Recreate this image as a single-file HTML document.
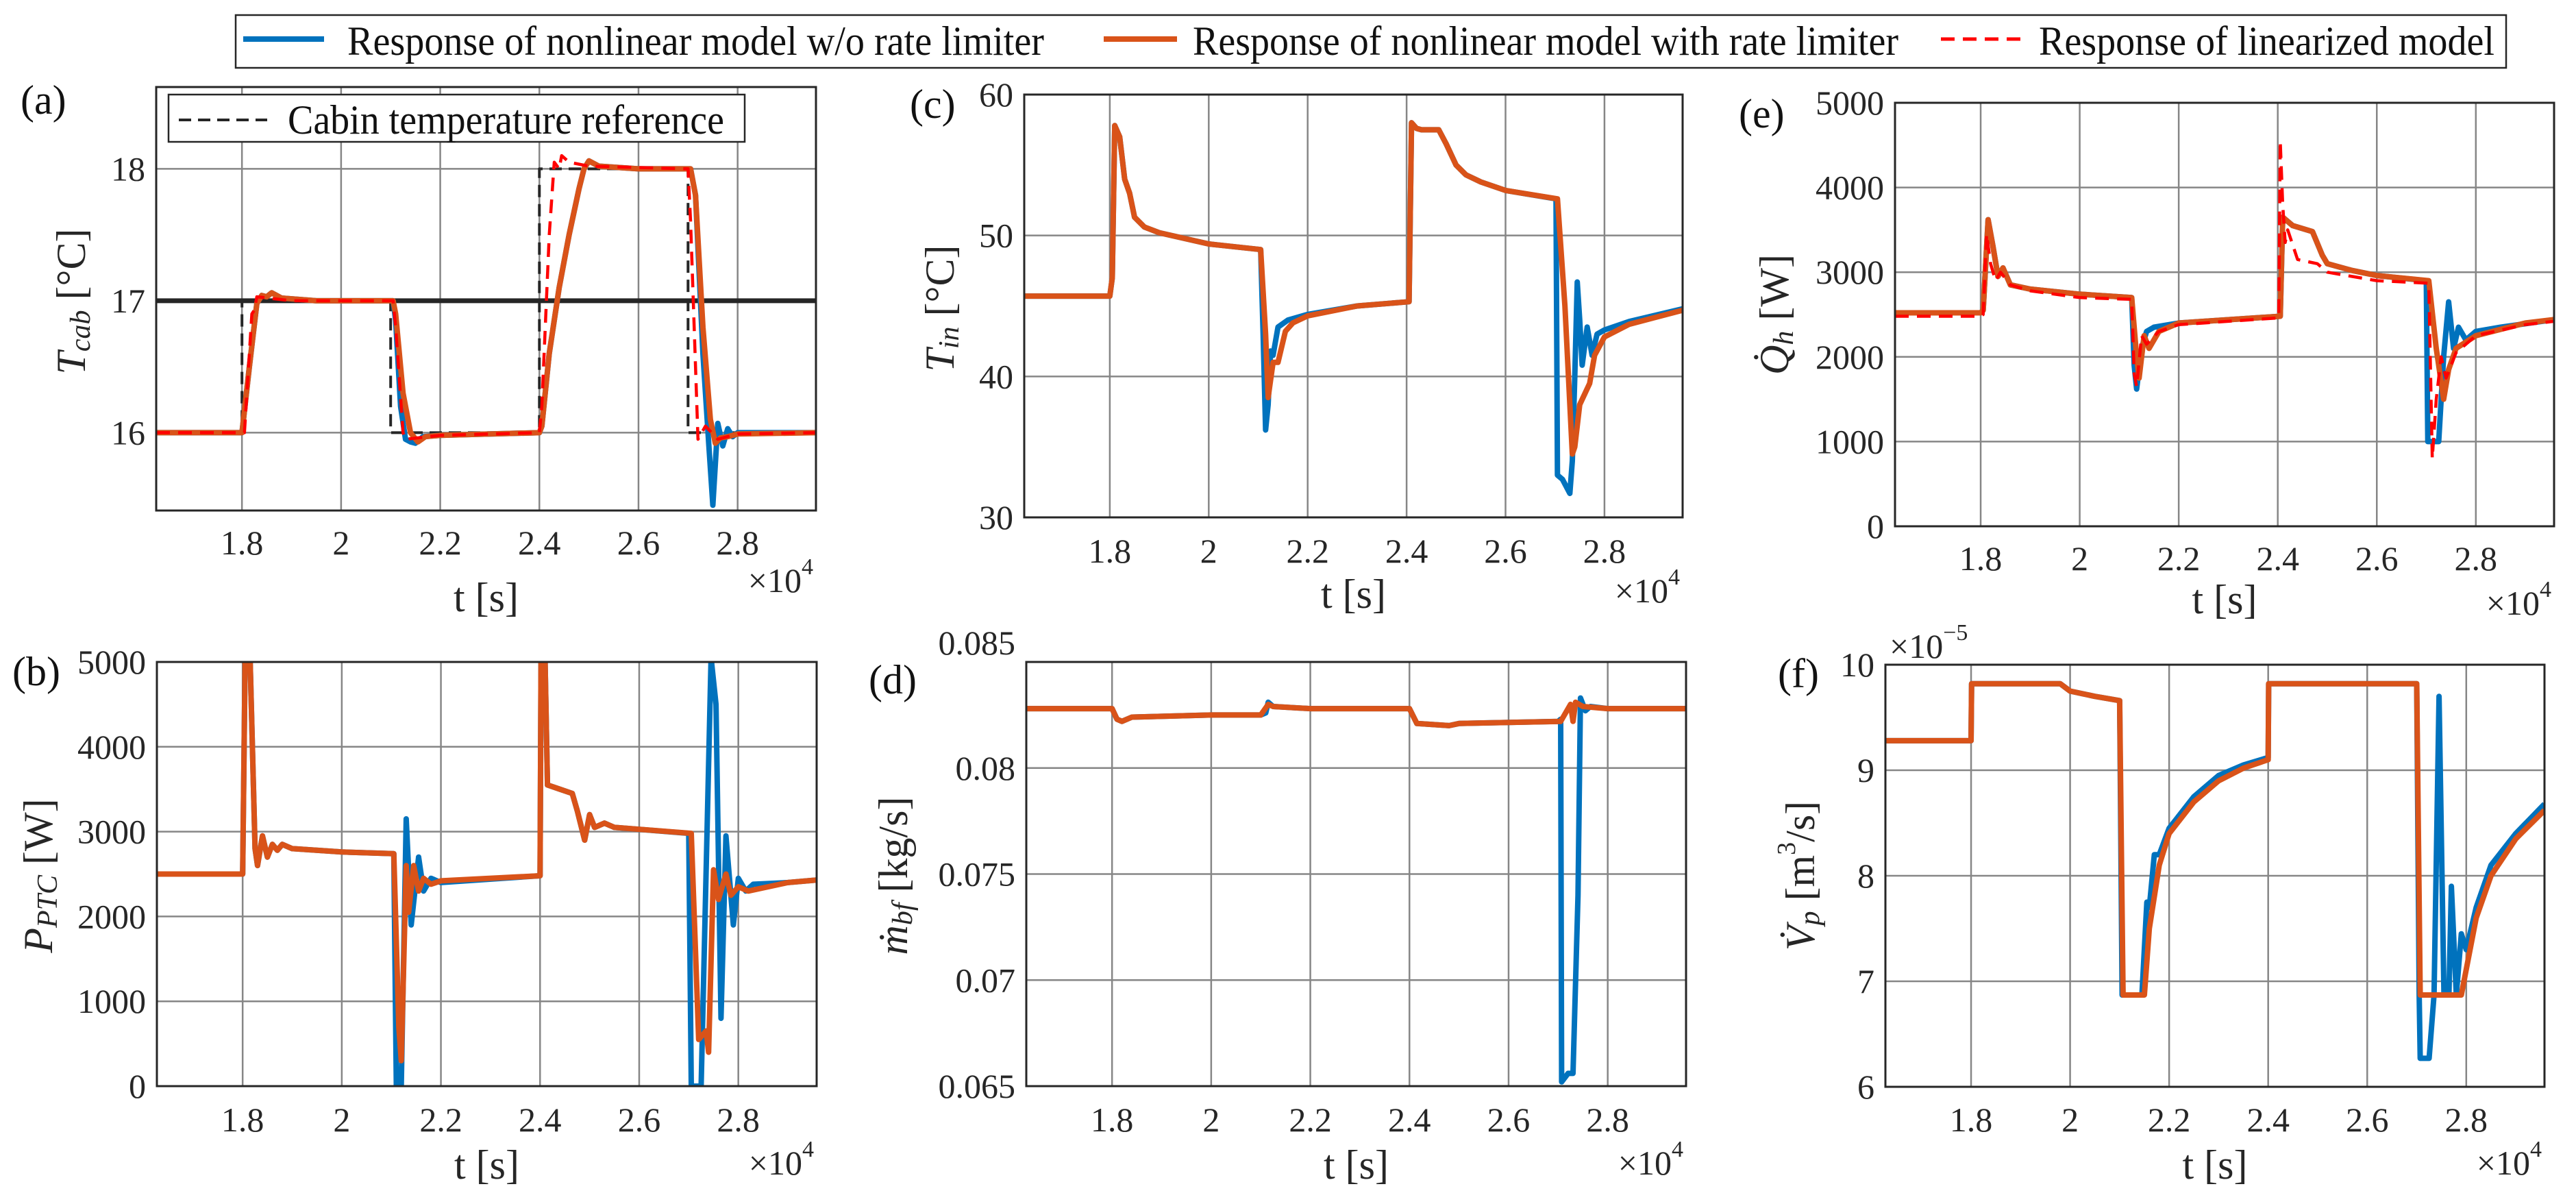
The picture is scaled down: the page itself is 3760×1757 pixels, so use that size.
<!DOCTYPE html>
<html><head><meta charset="utf-8"><style>
html,body{margin:0;padding:0;background:#fff;}
svg{display:block;font-family:"Liberation Serif",serif;}
</style></head><body>
<svg id="fig" width="3760" height="1757" viewBox="0 0 3760 1757" xmlns="http://www.w3.org/2000/svg"></svg>
<script>
// ---- shared axis data ----
const X_LIM = [1.627, 2.958];
const X_TICKS = [1.8, 2.0, 2.2, 2.4, 2.6, 2.8];
const X_TICK_LABELS = ["1.8", "2", "2.2", "2.4", "2.6", "2.8"];

// ---- (a) cabin temperature ----
const A_TICKS = [16, 17, 18];
const A_TICK_LABELS = ["16", "17", "18"];
const A_REF_T = [1.627, 1.8, 1.8, 2.1, 2.1, 2.4, 2.4, 2.7, 2.7, 2.958];
const A_REF_Y = [16, 16, 17, 17, 16, 16, 18, 18, 16, 16];
const A_BLUE_T = [1.627, 1.8, 1.815, 1.83, 1.84, 1.85, 1.86, 1.88, 1.95, 2.105, 2.11, 2.12, 2.13, 2.14, 2.15, 2.165, 2.2, 2.4, 2.405, 2.42, 2.44, 2.46, 2.48, 2.49, 2.5, 2.52, 2.6, 2.705, 2.715, 2.73, 2.742, 2.75, 2.76, 2.77, 2.78, 2.79, 2.8, 2.958];
const A_BLUE_Y = [16, 16, 16.5, 16.98, 17.04, 17.03, 17.06, 17.02, 17.0, 17.0, 16.85, 16.2, 15.95, 15.93, 15.92, 15.97, 15.98, 16.0, 16.05, 16.6, 17.1, 17.5, 17.85, 18.0, 18.06, 18.02, 18.0, 18.0, 17.8, 16.6, 15.9, 15.45, 16.07, 15.9, 16.03, 15.97, 16.0, 16.0];
const A_ORANGE_T = [1.627, 1.8, 1.815, 1.83, 1.84, 1.85, 1.86, 1.88, 1.95, 2.105, 2.11, 2.125, 2.14, 2.155, 2.17, 2.2, 2.4, 2.405, 2.42, 2.44, 2.46, 2.48, 2.49, 2.5, 2.52, 2.6, 2.705, 2.715, 2.73, 2.745, 2.755, 2.765, 2.78, 2.8, 2.958];
const A_ORANGE_Y = [16, 16, 16.5, 16.98, 17.04, 17.03, 17.06, 17.02, 17.0, 17.0, 16.9, 16.3, 16.0, 15.93, 15.97, 15.98, 16.0, 16.05, 16.6, 17.1, 17.5, 17.85, 18.0, 18.06, 18.02, 18.0, 18.0, 17.8, 16.8, 16.1, 15.92, 15.96, 15.97, 15.99, 16.0];
const A_RED_T = [1.627, 1.805, 1.82, 1.825, 1.83, 1.9, 2.105, 2.11, 2.125, 2.13, 2.2, 2.4, 2.405, 2.42, 2.43, 2.44, 2.445, 2.46, 2.5, 2.7, 2.705, 2.715, 2.72, 2.735, 2.76, 2.8, 2.958];
const A_RED_Y = [16, 16, 16.9, 16.93, 17.03, 17.0, 17.0, 16.8, 16.0, 15.95, 15.98, 16.0, 16.2, 17.5, 18.05, 18.0, 18.1, 18.05, 18.02, 18.0, 17.6, 16.5, 15.95, 16.05, 15.95, 15.99, 16.0];
const A_SETPOINT = [17];

// ---- (b) PTC power ----
const B_TICKS = [0, 1000, 2000, 3000, 4000, 5000];
const B_TICK_LABELS = ["0", "1000", "2000", "3000", "4000", "5000"];
const B_ORANGE_T = [1.627, 1.8, 1.805, 1.815, 1.825, 1.83, 1.84, 1.85, 1.86, 1.87, 1.88, 1.9, 2.0, 2.105, 2.115, 2.12, 2.13, 2.135, 2.145, 2.155, 2.165, 2.18, 2.2, 2.4, 2.402, 2.41, 2.415, 2.44, 2.465, 2.475, 2.49, 2.5, 2.51, 2.53, 2.55, 2.705, 2.72, 2.735, 2.74, 2.75, 2.76, 2.775, 2.785, 2.8, 2.82, 2.9, 2.958];
const B_ORANGE_Y = [2500, 2500, 5050, 5050, 2800, 2600, 2950, 2700, 2850, 2780, 2850, 2800, 2760, 2740, 700, 300, 2600, 2050, 2600, 2300, 2450, 2380, 2420, 2480, 5050, 5050, 3550, 3500, 3450, 3250, 2900, 3200, 3050, 3100, 3050, 2980, 550, 650, 400, 2550, 2200, 2500, 2250, 2350, 2300, 2400, 2430];
const B_BLUE_T = [1.627, 1.8, 1.805, 1.815, 1.825, 1.83, 1.84, 1.85, 1.86, 1.87, 1.88, 1.9, 2.0, 2.105, 2.11, 2.12, 2.13, 2.14, 2.155, 2.165, 2.18, 2.2, 2.4, 2.402, 2.41, 2.415, 2.44, 2.465, 2.475, 2.49, 2.5, 2.51, 2.53, 2.55, 2.7, 2.705, 2.725, 2.745, 2.755, 2.765, 2.775, 2.79, 2.8, 2.815, 2.83, 2.9, 2.958];
const B_BLUE_Y = [2500, 2500, 5050, 5050, 2800, 2600, 2950, 2700, 2850, 2780, 2850, 2800, 2760, 2740, 0, 0, 3150, 1900, 2700, 2300, 2450, 2400, 2480, 5050, 5050, 3550, 3500, 3450, 3250, 2900, 3200, 3050, 3100, 3050, 2980, 0, 0, 5050, 4500, 800, 2950, 1900, 2450, 2300, 2380, 2400, 2430];

// ---- (c) inlet temperature ----
const C_TICKS = [30, 40, 50, 60];
const C_TICK_LABELS = ["30", "40", "50", "60"];
const C_BLUE_T = [1.627, 1.8, 1.805, 1.81, 1.82, 1.83, 1.84, 1.85, 1.87, 1.9, 2.0, 2.105, 2.11, 2.115, 2.12, 2.125, 2.13, 2.14, 2.16, 2.2, 2.3, 2.405, 2.41, 2.42, 2.43, 2.465, 2.48, 2.5, 2.52, 2.55, 2.6, 2.702, 2.705, 2.715, 2.73, 2.735, 2.74, 2.745, 2.75, 2.755, 2.765, 2.775, 2.785, 2.8, 2.85, 2.958];
const C_BLUE_Y = [45.7, 45.7, 47, 57.8, 57, 54, 53, 51.3, 50.6, 50.2, 49.4, 49.0, 43, 36.2, 38, 41.8, 41.5, 43.5, 44, 44.4, 45.0, 45.3, 58, 57.6, 57.5, 57.5, 56.5, 55, 54.3, 53.8, 53.2, 52.6, 33, 32.7, 31.7, 34, 40, 46.7, 44, 40.8, 43.5, 41.5, 43, 43.3, 43.9, 44.8];
const C_ORANGE_T = [1.627, 1.8, 1.805, 1.81, 1.82, 1.83, 1.84, 1.85, 1.87, 1.9, 2.0, 2.105, 2.115, 2.12, 2.13, 2.14, 2.155, 2.17, 2.2, 2.3, 2.405, 2.41, 2.42, 2.43, 2.465, 2.48, 2.5, 2.52, 2.55, 2.6, 2.705, 2.72, 2.735, 2.74, 2.75, 2.77, 2.78, 2.8, 2.85, 2.958];
const C_ORANGE_Y = [45.7, 45.7, 47, 57.8, 57, 54, 53, 51.3, 50.6, 50.2, 49.4, 49.0, 43, 38.5, 41, 41, 43.2, 43.8, 44.3, 45.0, 45.3, 58, 57.6, 57.5, 57.5, 56.5, 55, 54.3, 53.8, 53.2, 52.6, 45, 34.5, 35, 38, 39.5, 41.5, 42.8, 43.7, 44.7];

// ---- (d) mass flow ----
const D_TICKS = [0.065, 0.07, 0.075, 0.08, 0.085];
const D_TICK_LABELS = ["0.065", "0.07", "0.075", "0.08", "0.085"];
const D_BLUE_T = [1.627, 1.8, 1.81, 1.82, 1.84, 2.0, 2.1, 2.11, 2.115, 2.125, 2.2, 2.4, 2.415, 2.48, 2.5, 2.7, 2.705, 2.707, 2.72, 2.73, 2.74, 2.745, 2.755, 2.765, 2.8, 2.958];
const D_BLUE_Y = [0.0828, 0.0828, 0.0823, 0.0822, 0.0824, 0.0825, 0.0825, 0.0826, 0.0831, 0.0829, 0.0828, 0.0828, 0.0821, 0.0820, 0.0821, 0.0822, 0.0823, 0.0652, 0.0656, 0.0656, 0.074, 0.0833, 0.0827, 0.0829, 0.0828, 0.0828];
const D_ORANGE_T = [1.627, 1.8, 1.81, 1.82, 1.84, 2.0, 2.1, 2.115, 2.125, 2.2, 2.4, 2.415, 2.48, 2.5, 2.705, 2.725, 2.73, 2.735, 2.75, 2.8, 2.958];
const D_ORANGE_Y = [0.0828, 0.0828, 0.0823, 0.0822, 0.0824, 0.0825, 0.0825, 0.0830, 0.0829, 0.0828, 0.0828, 0.0821, 0.0820, 0.0821, 0.0822, 0.0830, 0.0822, 0.0831, 0.0829, 0.0828, 0.0828];

// ---- (e) heat flow ----
const E_TICKS = [0, 1000, 2000, 3000, 4000, 5000];
const E_TICK_LABELS = ["0", "1000", "2000", "3000", "4000", "5000"];
const E_BLUE_T = [1.627, 1.8, 1.805, 1.815, 1.825, 1.835, 1.845, 1.86, 1.9, 2.0, 2.105, 2.11, 2.115, 2.125, 2.135, 2.15, 2.2, 2.405, 2.41, 2.43, 2.47, 2.49, 2.5, 2.55, 2.6, 2.7, 2.703, 2.725, 2.735, 2.745, 2.755, 2.765, 2.78, 2.8, 2.85, 2.958];
const E_BLUE_Y = [2520, 2520, 2550, 3620, 3300, 2950, 3050, 2850, 2800, 2740, 2700, 1900, 1620, 2100, 2300, 2350, 2400, 2480, 3650, 3550, 3480, 3200, 3100, 3020, 2960, 2900, 1000, 1000, 2000, 2650, 2100, 2350, 2200, 2300, 2350, 2440];
const E_ORANGE_T = [1.627, 1.8, 1.805, 1.815, 1.825, 1.835, 1.845, 1.86, 1.9, 2.0, 2.105, 2.115, 2.12, 2.13, 2.14, 2.16, 2.2, 2.405, 2.41, 2.43, 2.47, 2.49, 2.5, 2.55, 2.6, 2.705, 2.72, 2.735, 2.745, 2.76, 2.8, 2.9, 2.958];
const E_ORANGE_Y = [2520, 2520, 2550, 3620, 3300, 2950, 3050, 2850, 2800, 2740, 2700, 2000, 1750, 2250, 2100, 2300, 2400, 2480, 3650, 3550, 3480, 3200, 3100, 3020, 2960, 2900, 2100, 1500, 1850, 2100, 2250, 2400, 2440];
const E_RED_T = [1.627, 1.8, 1.805, 1.812, 1.82, 1.83, 1.84, 1.86, 1.9, 2.0, 2.105, 2.11, 2.115, 2.125, 2.135, 2.16, 2.2, 2.402, 2.405, 2.41, 2.415, 2.42, 2.44, 2.48, 2.5, 2.6, 2.705, 2.712, 2.72, 2.73, 2.74, 2.76, 2.8, 2.9, 2.958];
const E_RED_Y = [2480, 2480, 2500, 3450, 3100, 2900, 3000, 2850, 2780, 2700, 2680, 1800, 1650, 2250, 2150, 2300, 2380, 2460, 4550, 3800, 3350, 3500, 3150, 3100, 3000, 2900, 2870, 800, 1500, 2000, 1750, 2050, 2250, 2380, 2420];

// ---- (f) pump volume flow (x1e-5) ----
const F_TICKS = [6, 7, 8, 9, 10];
const F_TICK_LABELS = ["6", "7", "8", "9", "10"];
const F_BLUE_T = [1.627, 1.8, 1.801, 1.98, 2.0, 2.05, 2.1, 2.105, 2.145, 2.155, 2.16, 2.17, 2.18, 2.2, 2.25, 2.3, 2.35, 2.4, 2.401, 2.7, 2.705, 2.707, 2.725, 2.735, 2.745, 2.755, 2.765, 2.77, 2.78, 2.79, 2.8, 2.82, 2.85, 2.9, 2.958];
const F_BLUE_Y = [9.28, 9.28, 9.82, 9.82, 9.75, 9.70, 9.66, 6.87, 6.87, 7.75, 7.7, 8.2, 8.2, 8.45, 8.75, 8.95, 9.05, 9.12, 9.82, 9.82, 6.87, 6.27, 6.27, 6.87, 9.7, 6.87, 6.87, 7.9, 6.87, 7.45, 7.3, 7.7, 8.1, 8.4, 8.68];
const F_ORANGE_T = [1.627, 1.8, 1.801, 1.98, 2.0, 2.05, 2.1, 2.107, 2.15, 2.16, 2.18, 2.2, 2.25, 2.3, 2.35, 2.4, 2.401, 2.7, 2.707, 2.79, 2.82, 2.85, 2.9, 2.958];
const F_ORANGE_Y = [9.28, 9.28, 9.82, 9.82, 9.75, 9.70, 9.66, 6.87, 6.87, 7.5, 8.1, 8.4, 8.7, 8.9, 9.02, 9.1, 9.82, 9.82, 6.87, 6.87, 7.6, 8.0, 8.35, 8.62];

const NS = "http://www.w3.org/2000/svg";
const svg = document.getElementById("fig");
const BLUE = "#0072BD", ORANGE = "#D95319", RED = "#FF0000";
const TICK_FS = 50, LABEL_FS = 60;

function mk(tag, attrs, parent) {
  const e = document.createElementNS(NS, tag);
  for (const k in attrs) e.setAttribute(k, attrs[k]);
  (parent || svg).appendChild(e);
  return e;
}

function makePanel(id, box, ylim, yTicks, yTickLabels, letter, letterPos, ylabelPos, ylabelBuilder, xTickY, xLabelY, xExpY) {
  const g = mk("g", {});
  
  
  const xs = t => box.L + (t - X_LIM[0]) / (X_LIM[1] - X_LIM[0]) * (box.R - box.L);
  const ys = v => box.B - (v - ylim[0]) / (ylim[1] - ylim[0]) * (box.B - box.T);
  const cp = mk("clipPath", {id: "clip-" + id}, g);
  mk("rect", {x: box.L, y: box.T, width: box.R - box.L, height: box.B - box.T}, cp);
  const grid = mk("g", {stroke: "#7a7a7a", "stroke-width": 2.5, opacity: 0.9}, g);
  
  
  X_TICKS.forEach(t => { const x = xs(t); mk("line", {x1: x, x2: x, y1: box.T, y2: box.B}, grid); });
  yTicks.forEach(v => { const y = ys(v); mk("line", {x1: box.L, x2: box.R, y1: y, y2: y}, grid); });
  X_TICKS.forEach((t, i) => {
    const tx = mk("text", {x: xs(t), y: xTickY, "font-size": TICK_FS, "text-anchor": "middle", "dominant-baseline": "central", fill: "#262626"}, g);
    
    
    tx.textContent = X_TICK_LABELS[i];
  });
  yTicks.forEach((v, i) => {
    let yy = ys(v);
    if (id === "d" && i === yTicks.length - 1) yy -= 28;
    const tx = mk("text", {x: box.L - 16, y: yy, "font-size": TICK_FS, "text-anchor": "end", "dominant-baseline": "central", fill: "#262626"}, g);
    
    
    tx.textContent = yTickLabels[i];
  });
  const xl = mk("text", {x: (box.L + box.R) / 2, y: xLabelY, "font-size": LABEL_FS, "text-anchor": "middle", "dominant-baseline": "central", fill: "#262626"}, g);
  
  
  xl.textContent = "t  [s]";
  const xe = mk("text", {x: box.R - 4, y: xExpY, "font-size": TICK_FS, "text-anchor": "end", "dominant-baseline": "central", fill: "#262626"}, g);
  
  
  xe.innerHTML = '×10<tspan dy="-20" font-size="34">4</tspan>';
  const lt = mk("text", {x: letterPos[0], y: letterPos[1], "font-size": LABEL_FS, "dominant-baseline": "central", fill: "#111"}, g);
  
  
  lt.textContent = "(" + id + ")";
  const yl = mk("text", {x: 0, y: 0, "font-size": LABEL_FS, "text-anchor": "middle", "dominant-baseline": "central", fill: "#262626", transform: "translate(" + ylabelPos[0] + "," + ylabelPos[1] + ") rotate(-90)"}, g);
  
  
  yl.innerHTML = ylabelBuilder;
  const plot = mk("g", {"clip-path": "url(#clip-" + id + ")"}, g);
  return {g, plot, xs, ys, box};
}

function drawBox(p, id) {
  const r = mk("rect", {x: p.box.L, y: p.box.T, width: p.box.R - p.box.L, height: p.box.B - p.box.T, fill: "none", stroke: "#262626", "stroke-width": 3}, p.g);
  
  
}

function series(p, ts, vs, color, width, dash, name) {
  let d = "";
  ts.forEach((t, i) => { d += (i ? "L" : "M") + p.xs(t).toFixed(1) + "," + p.ys(vs[i]).toFixed(1); });
  const path = mk("path", {d: d, fill: "none", stroke: color, "stroke-width": width, "stroke-linejoin": "round", "stroke-linecap": "butt"}, p.plot);
  if (dash) path.setAttribute("stroke-dasharray", dash);
  
  
  return path;
}

const SUB = 'font-style="italic" font-size="42" dy="14"';

// Panel (a)
const pa = makePanel("a", {L: 228, R: 1191, T: 127, B: 745}, [15.41, 18.62], A_TICKS, A_TICK_LABELS, "a", [30, 146], [104, 440],
  '<tspan font-style="italic">T</tspan><tspan ' + SUB + '>cab</tspan><tspan dy="-14">  [°C]</tspan>', 792, 872, 847);
A_SETPOINT.forEach(v => {
  const l = mk("line", {x1: pa.box.L, x2: pa.box.R, y1: pa.ys(v), y2: pa.ys(v), stroke: "#262626", "stroke-width": 7}, pa.plot);
  
  
});
series(pa, A_REF_T, A_REF_Y, "#262626", 4, "18,10", "reference-line-a");
series(pa, A_BLUE_T, A_BLUE_Y, BLUE, 8, null, "series-no-limiter-a");
series(pa, A_ORANGE_T, A_ORANGE_Y, ORANGE, 8, null, "series-limiter-a");
series(pa, A_RED_T, A_RED_Y, RED, 4.5, "20,12", "series-linearized-a");
drawBox(pa, "a");
const il = mk("g", {});


mk("rect", {x: 246, y: 138, width: 841, height: 69, fill: "#fff", stroke: "#262626", "stroke-width": 2.5}, il);
mk("line", {x1: 261, x2: 390, y1: 175, y2: 175, stroke: "#262626", "stroke-width": 4, "stroke-dasharray": "18,10"}, il);
const ilt = mk("text", {x: 420, y: 175, "font-size": 60, "dominant-baseline": "central", textLength: 637, lengthAdjust: "spacingAndGlyphs", fill: "#111"}, il);
ilt.textContent = "Cabin temperature reference";

// Panel (b)
const pb = makePanel("b", {L: 229, R: 1192, T: 966, B: 1585}, [0, 5000], B_TICKS, B_TICK_LABELS, "b", [18, 980], [56, 1278],
  '<tspan font-style="italic">P</tspan><tspan ' + SUB + '>PTC</tspan><tspan dy="-14">  [W]</tspan>', 1634, 1700, 1697);
series(pb, B_BLUE_T, B_BLUE_Y, BLUE, 8, null, "series-no-limiter-b");
series(pb, B_ORANGE_T, B_ORANGE_Y, ORANGE, 8, null, "series-limiter-b");
drawBox(pb, "b");

// Panel (c)
const pc = makePanel("c", {L: 1495, R: 2456, T: 138, B: 755}, [30, 60], C_TICKS, C_TICK_LABELS, "c", [1328, 152], [1372, 450],
  '<tspan font-style="italic">T</tspan><tspan ' + SUB + '>in</tspan><tspan dy="-14">  [°C]</tspan>', 804, 867, 862);
series(pc, C_BLUE_T, C_BLUE_Y, BLUE, 8, null, "series-no-limiter-c");
series(pc, C_ORANGE_T, C_ORANGE_Y, ORANGE, 8, null, "series-limiter-c");
drawBox(pc, "c");

// Panel (d)
const pd = makePanel("d", {L: 1498, R: 2461, T: 966, B: 1585}, [0.065, 0.085], D_TICKS, D_TICK_LABELS, "d", [1268, 992], [1304, 1278],
  '<tspan font-style="italic">ṁ</tspan><tspan ' + SUB + '>bf</tspan><tspan dy="-14">  [kg/s]</tspan>', 1634, 1700, 1697);
series(pd, D_BLUE_T, D_BLUE_Y, BLUE, 8, null, "series-no-limiter-d");
series(pd, D_ORANGE_T, D_ORANGE_Y, ORANGE, 8, null, "series-limiter-d");
drawBox(pd, "d");

// Panel (e)
const pe = makePanel("e", {L: 2766, R: 3728, T: 150, B: 768}, [0, 5000], E_TICKS, E_TICK_LABELS, "e", [2538, 166], [2590, 459],
  '<tspan font-style="italic">Q̇</tspan><tspan ' + SUB + '>h</tspan><tspan dy="-14">  [W]</tspan>', 815, 875, 880);
series(pe, E_BLUE_T, E_BLUE_Y, BLUE, 8, null, "series-no-limiter-e");
series(pe, E_ORANGE_T, E_ORANGE_Y, ORANGE, 8, null, "series-limiter-e");
series(pe, E_RED_T, E_RED_Y, RED, 4.5, "20,12", "series-linearized-e");
drawBox(pe, "e");

// Panel (f)
const pf = makePanel("f", {L: 2752, R: 3714, T: 970, B: 1586}, [6, 10], F_TICKS, F_TICK_LABELS, "f", [2595, 983], [2628, 1278],
  '<tspan font-style="italic">V̇</tspan><tspan ' + SUB + '>p</tspan><tspan dy="-14">  [m</tspan><tspan font-size="38" dy="-20">3</tspan><tspan dy="20">/s]</tspan>', 1634, 1700, 1697);
series(pf, F_BLUE_T, F_BLUE_Y, BLUE, 8, null, "series-no-limiter-f");
series(pf, F_ORANGE_T, F_ORANGE_Y, ORANGE, 8, null, "series-limiter-f");
drawBox(pf, "f");
const fe = mk("text", {x: 2758, y: 943, "font-size": TICK_FS, "dominant-baseline": "central", fill: "#262626"});


fe.innerHTML = '×10<tspan dy="-20" font-size="34">−5</tspan>';

// Top legend
const lg = mk("g", {});


mk("rect", {x: 344, y: 22, width: 3314, height: 77, fill: "#fff", stroke: "#262626", "stroke-width": 2.5}, lg);
const e1 = mk("line", {x1: 355, x2: 473, y1: 57, y2: 57, stroke: BLUE, "stroke-width": 8}, lg);


const t1 = mk("text", {x: 507, y: 60, "font-size": 60, "dominant-baseline": "central", textLength: 1017, lengthAdjust: "spacingAndGlyphs", fill: "#111"}, lg);


t1.textContent = "Response of nonlinear model w/o rate limiter";
const e2 = mk("line", {x1: 1611, x2: 1718, y1: 57, y2: 57, stroke: ORANGE, "stroke-width": 8}, lg);


const t2 = mk("text", {x: 1741, y: 60, "font-size": 60, "dominant-baseline": "central", textLength: 1030, lengthAdjust: "spacingAndGlyphs", fill: "#111"}, lg);


t2.textContent = "Response of nonlinear model with rate limiter";
const e3 = mk("line", {x1: 2833, x2: 2957, y1: 57, y2: 57, stroke: RED, "stroke-width": 5, "stroke-dasharray": "20,12"}, lg);


const t3 = mk("text", {x: 2976, y: 60, "font-size": 60, "dominant-baseline": "central", textLength: 665, lengthAdjust: "spacingAndGlyphs", fill: "#111"}, lg);


t3.textContent = "Response of linearized model";
</script>
</body></html>
